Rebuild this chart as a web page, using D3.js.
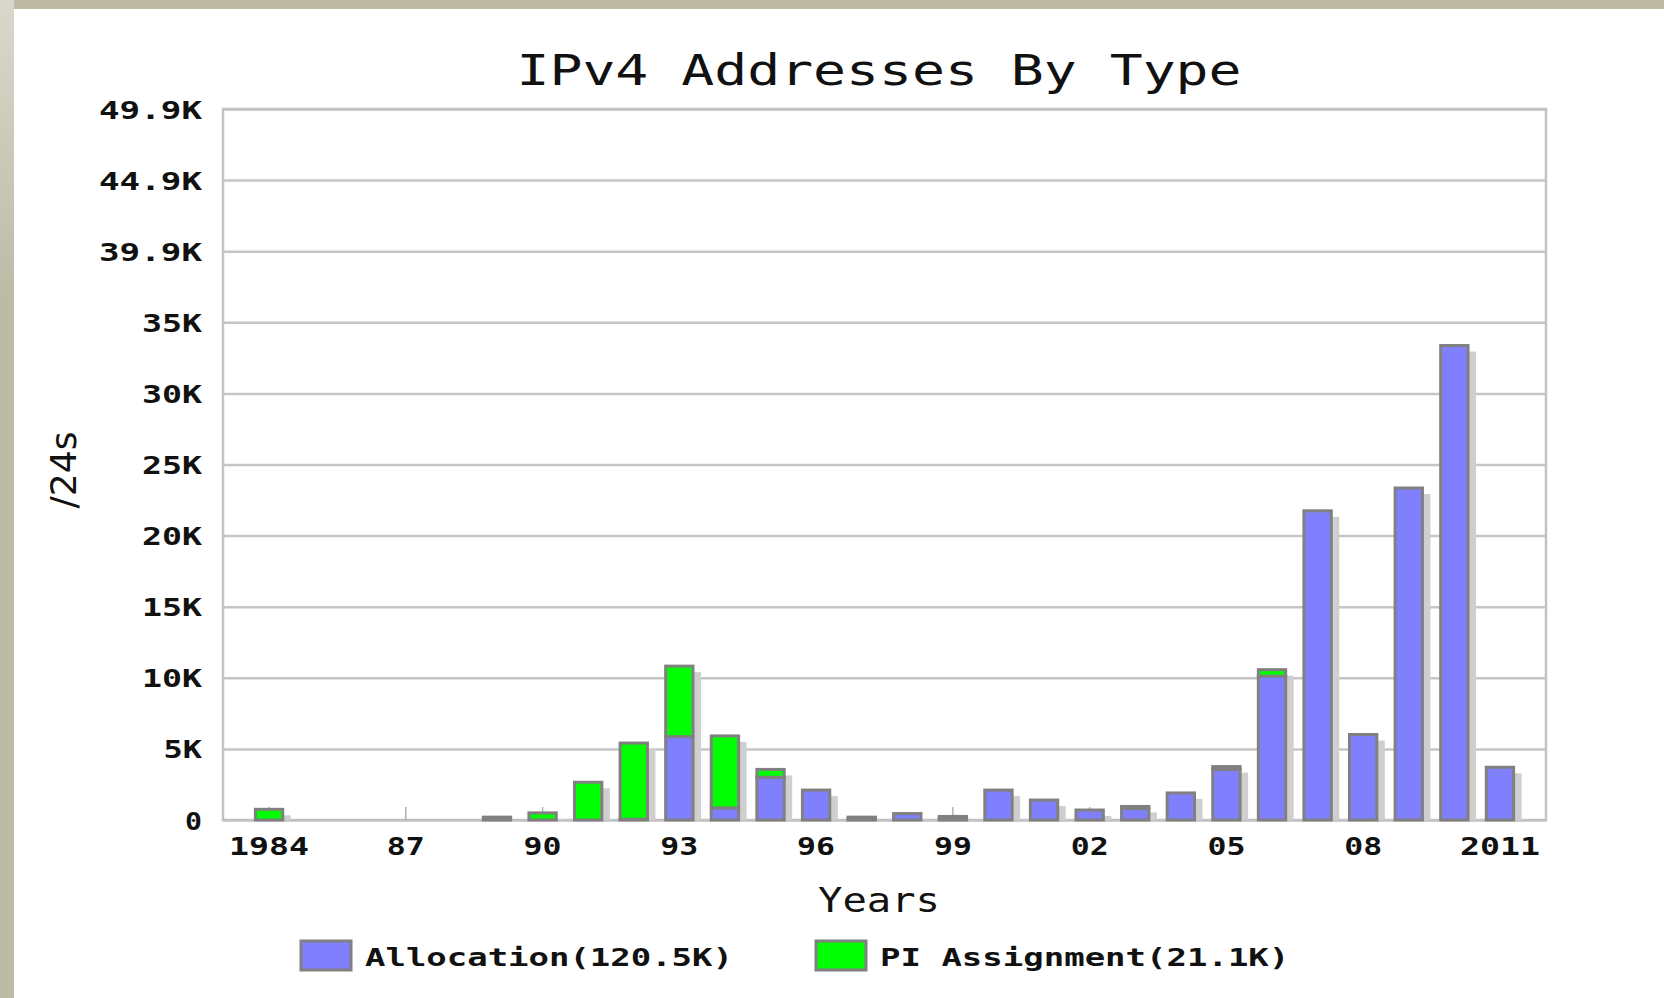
<!DOCTYPE html>
<html>
<head>
<meta charset="utf-8">
<script src="https://cdn.jsdelivr.net/npm/d3@7"></script>
<style>
  html, body { margin: 0; padding: 0; background: #bdbba6; }
  svg { display: block; }
</style>
</head>
<body>
<div id="chart"></div>
<script>
// values in thousands of /24s
const years = [1984, 1985, 1986, 1987, 1988, 1989, 1990, 1991, 1992, 1993, 1994, 1995, 1996, 1997,
  1998, 1999, 2000, 2001, 2002, 2003, 2004, 2005, 2006, 2007, 2008, 2009, 2010, 2011]
const allocation = [0, 0, 0, 0, 0, 0, 0, 0, 0.05, 5.85, 0.85, 3.0, 2.1, 0.1,
  0.45, 0.1, 2.1, 1.4, 0.7, 0.8, 1.9, 3.55, 10.1, 21.7, 6.0, 23.3, 33.3, 3.7]
const piAssignment = [0.75, 0, 0, 0, 0, 0.2, 0.5, 2.65, 5.35, 4.95, 5.05, 0.55, 0, 0.1,
  0, 0.15, 0, 0, 0, 0.15, 0, 0.2, 0.45, 0, 0, 0, 0, 0]
const yTickValues = [0, 4.99, 9.98, 14.97, 19.96, 24.95, 29.94, 34.93, 39.92, 44.91, 49.9]
const yTickLabels = ['0', '5K', '10K', '15K', '20K', '25K', '30K', '35K', '39.9K', '44.9K', '49.9K']
const xTickYears = [1984, 1987, 1990, 1993, 1996, 1999, 2002, 2005, 2008, 2011]
const xTickLabels = ['1984', '87', '90', '93', '96', '99', '02', '05', '08', '2011']
const seriesNames = ['Allocation(120.5K)', 'PI Assignment(21.1K)']
const seriesColors = ['#8080ff', '#00ff00']

const W = 1664, H = 998
const plotL = 223, plotR = 1546, plotT = 109, plotB = 820
const monoFont = '"DejaVu Sans Mono", monospace'

const svg = d3.select('#chart').append('svg')
  .attr('width', W)
  .attr('height', H)

// page background
const defs = svg.append('defs')
const grad = defs.append('linearGradient')
  .attr('id', 'strip').attr('x1', 0).attr('y1', 0).attr('x2', 0).attr('y2', 1)
grad.append('stop').attr('offset', '0%').attr('stop-color', '#d9d8cc')
grad.append('stop').attr('offset', '30%').attr('stop-color', '#bdbba6')
grad.append('stop').attr('offset', '100%').attr('stop-color', '#bdbba6')

svg.append('rect').attr('width', W).attr('height', H).attr('fill', '#bdbba6')
svg.append('rect').attr('width', 14).attr('height', H).attr('fill', 'url(#strip)')
svg.append('rect').attr('x', 14).attr('y', 9).attr('width', W - 14).attr('height', H - 9).attr('fill', '#fff')

const x = d3.scaleBand()
  .domain(years)
  .range([plotL, plotR])
  .paddingInner(0.4)
  .paddingOuter(0.71)

const y = d3.scaleLinear()
  .domain([0, 49.9])
  .range([plotB, plotT])

// grid lines
svg.append('g')
  .attr('transform', `translate(${plotL},0)`)
  .call(d3.axisLeft(y).tickValues(yTickValues).tickSize(-(plotR - plotL)).tickFormat(''))
  .call(g => g.select('.domain').remove())
  .call(g => g.selectAll('.tick line').attr('stroke', '#c6c6c6').attr('stroke-width', 2.5))

// frame
svg.append('rect')
  .attr('x', plotL).attr('y', plotT)
  .attr('width', plotR - plotL).attr('height', plotB - plotT)
  .attr('fill', 'none')
  .attr('stroke', '#c2c2c2')
  .attr('stroke-width', 2.5)

// x axis: small inner ticks + labels
const xAxis = svg.append('g')
  .attr('transform', `translate(0,${plotB})`)
  .call(d3.axisBottom(x)
    .tickValues(xTickYears)
    .tickFormat((d, i) => xTickLabels[i])
    .tickSizeInner(-13)
    .tickSizeOuter(0))
xAxis.select('.domain').remove()
xAxis.selectAll('.tick line').attr('stroke', '#b0b0b0').attr('stroke-width', 1.5)
xAxis.selectAll('.tick text')
  .attr('y', 35)
  .attr('dy', null)
  .attr('fill', '#111')
  .style('font-family', monoFont)
  .style('font-weight', 'bold')
  .style('font-size', '25px')
  .attr('textLength', d => (xTickLabels[xTickYears.indexOf(d)].length - 1) * 21 + 17)
  .attr('lengthAdjust', 'spacingAndGlyphs')

// y axis labels
const yAxis = svg.append('g')
  .attr('transform', `translate(${plotL},0)`)
  .call(d3.axisLeft(y)
    .tickValues(yTickValues)
    .tickFormat((d, i) => yTickLabels[i])
    .tickSize(0)
    .tickPadding(21))
yAxis.select('.domain').remove()
yAxis.selectAll('.tick text')
  .attr('dy', '0.36em')
  .attr('fill', '#111')
  .style('font-family', monoFont)
  .style('font-weight', 'bold')
  .style('font-size', '25px')
  .attr('textLength', (d, i) => (yTickLabels[i].length - 1) * 21.5 + 17)
  .attr('lengthAdjust', 'spacingAndGlyphs')

// stacked data
const rows = years.map((yr, i) => ({ year: yr, allocation: allocation[i], pi: piAssignment[i] }))
const stacked = d3.stack().keys(['allocation', 'pi'])(rows)
const totals = rows.map(r => ({ year: r.year, total: r.allocation + r.pi })).filter(r => r.total > 0)

// shadows
svg.append('g')
  .selectAll('rect')
  .data(totals)
  .join('rect')
    .attr('x', d => x(d.year) + 8)
    .attr('y', d => Math.min(y(d.total) + 6, plotB))
    .attr('width', x.bandwidth())
    .attr('height', d => Math.max(0, plotB - y(d.total) - 6))
    .attr('fill', '#cfcfcf')

// bars
svg.append('g')
  .selectAll('g')
  .data(stacked)
  .join('g')
    .attr('fill', (d, i) => seriesColors[i])
  .selectAll('rect')
  .data(d => d.filter(s => s[1] - s[0] > 0))
  .join('rect')
    .attr('x', d => x(d.data.year))
    .attr('y', d => y(d[1]))
    .attr('width', x.bandwidth())
    .attr('height', d => y(d[0]) - y(d[1]))
    .attr('stroke', '#808080')
    .attr('stroke-width', 3)

// titles
svg.append('text')
  .attr('x', 879).attr('y', 85)
  .attr('text-anchor', 'middle')
  .attr('fill', '#111')
  .style('font-family', monoFont)
  .style('font-size', '42px')
  .attr('textLength', 725)
  .attr('lengthAdjust', 'spacingAndGlyphs')
  .text('IPv4 Addresses By Type')

svg.append('text')
  .attr('x', 879).attr('y', 912)
  .attr('text-anchor', 'middle')
  .attr('fill', '#111')
  .style('font-family', monoFont)
  .style('font-size', '34px')
  .attr('textLength', 122)
  .attr('lengthAdjust', 'spacingAndGlyphs')
  .text('Years')

svg.append('text')
  .attr('transform', 'translate(76,470) rotate(-90)')
  .attr('text-anchor', 'middle')
  .attr('fill', '#111')
  .style('font-family', '"DejaVu Sans", sans-serif')
  .style('font-size', '36px')
  .attr('textLength', 77)
  .attr('lengthAdjust', 'spacingAndGlyphs')
  .text('/24s')

// legend
const legendX = [301, 816]
const legend = svg.append('g')
  .selectAll('g')
  .data(seriesNames)
  .join('g')
    .attr('transform', (d, i) => `translate(${legendX[i]},941)`)
legend.append('rect')
  .attr('width', 50).attr('height', 29)
  .attr('fill', (d, i) => seriesColors[i])
  .attr('stroke', '#808080')
  .attr('stroke-width', 3)
legend.append('text')
  .attr('x', 64).attr('y', 25)
  .attr('fill', '#111')
  .style('font-family', monoFont)
  .style('font-weight', 'bold')
  .style('font-size', '24px')
  .attr('textLength', d => (d.length - 1) * 20.7 + 16)
  .attr('lengthAdjust', 'spacingAndGlyphs')
  .text(d => d)
</script>
</body>
</html>
